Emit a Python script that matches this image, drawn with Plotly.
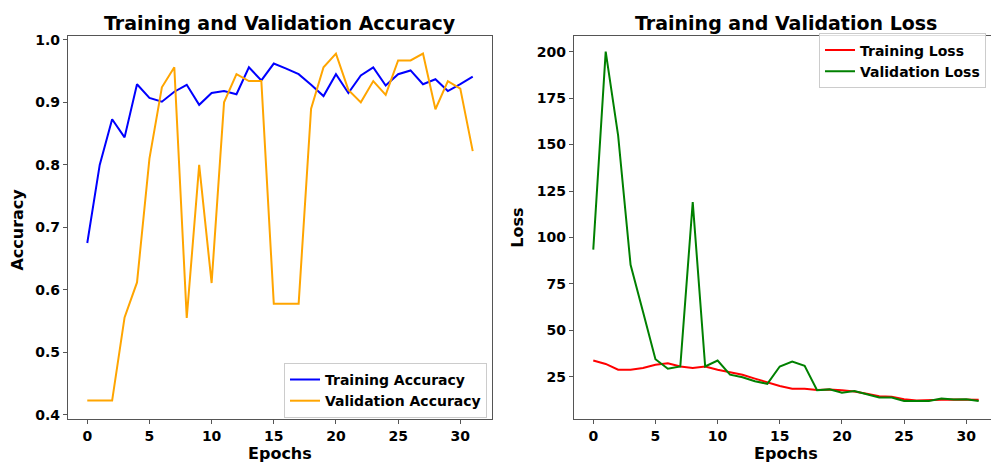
import plotly.graph_objects as go

# Per-epoch training history
epochs = list(range(32))

train_acc = [0.675, 0.800, 0.873, 0.844, 0.929, 0.907, 0.901, 0.917, 0.928, 0.896,
             0.915, 0.918, 0.913, 0.956, 0.935, 0.962, 0.954, 0.945, 0.928, 0.910,
             0.945, 0.915, 0.943, 0.956, 0.927, 0.945, 0.951, 0.929, 0.937, 0.918,
             0.929, 0.941]
val_acc = [0.423, 0.423, 0.423, 0.556, 0.612, 0.810, 0.924, 0.956, 0.555, 0.800,
           0.611, 0.900, 0.945, 0.934, 0.934, 0.578, 0.578, 0.578, 0.890, 0.956,
           0.978, 0.920, 0.900, 0.934, 0.912, 0.967, 0.967, 0.978, 0.889, 0.934,
           0.922, 0.822]

train_loss = [33.8, 32.0, 28.9, 28.9, 29.8, 31.5, 32.4, 30.6, 29.8, 30.6,
              28.9, 27.6, 26.2, 24.1, 22.2, 20.1, 18.7, 18.7, 18.0, 18.3,
              17.8, 17.2, 16.0, 14.6, 14.3, 13.0, 12.3, 12.3, 12.7, 12.8,
              12.8, 12.7]
val_loss = [93.5, 200.0, 154.8, 85.3, 60.0, 34.5, 29.4, 30.6, 119.0, 30.6,
            33.8, 26.2, 24.8, 22.7, 21.3, 30.6, 33.3, 31.0, 17.8, 18.3,
            16.5, 17.4, 15.7, 13.9, 13.9, 12.1, 12.0, 12.1, 13.4, 12.8,
            13.0, 12.1]

acc_ticks = [0.4, 0.5, 0.6, 0.7, 0.8, 0.9, 1.0]
loss_ticks = [25, 50, 75, 100, 125, 150, 175, 200]
epoch_ticks = [0, 5, 10, 15, 20, 25, 30]

W, H = 991, 468
FONT = "DejaVu Sans"
FRAME = "#555555"


def px(x):
    return x / W


def py(y):
    return 1 - y / H


fig = go.Figure()
fig.add_trace(go.Scatter(x=epochs, y=train_acc, mode="lines", name="Training Accuracy",
                         line=dict(color="blue", width=2), xaxis="x", yaxis="y", legend="legend"))
fig.add_trace(go.Scatter(x=epochs, y=val_acc, mode="lines", name="Validation Accuracy",
                         line=dict(color="orange", width=2), xaxis="x", yaxis="y", legend="legend"))
fig.add_trace(go.Scatter(x=epochs, y=train_loss, mode="lines", name="Training Loss",
                         line=dict(color="red", width=2), xaxis="x2", yaxis="y2", legend="legend2"))
fig.add_trace(go.Scatter(x=epochs, y=val_loss, mode="lines", name="Validation Loss",
                         line=dict(color="green", width=2), xaxis="x2", yaxis="y2", legend="legend2"))

tickfont = dict(family=FONT, size=14, color="black", weight="bold")
common = dict(showgrid=False, zeroline=False, showline=True, linecolor=FRAME, linewidth=1.3,
              ticks="outside", ticklen=4, tickcolor=FRAME, tickfont=tickfont)

ydom = [py(422), py(32)]
legend_font = dict(family=FONT, size=14, color="black", weight="bold")

fig.update_layout(
    width=W, height=H, autosize=False,
    margin=dict(l=0, r=0, t=0, b=0),
    paper_bgcolor="white", plot_bgcolor="white",
    xaxis=dict(domain=[px(68), px(492)], range=[-1.55, 32.55], tickvals=epoch_ticks,
               mirror=True, anchor="y", **common),
    yaxis=dict(domain=ydom, range=[0.3937, 1.0055], tickvals=acc_ticks,
               tickformat=".1f", mirror=True, anchor="x", **common),
    xaxis2=dict(domain=[px(574), 1.0], range=[-1.55, 31.99], tickvals=epoch_ticks,
                mirror=True, anchor="y2", **common),
    yaxis2=dict(domain=ydom, range=[2.43, 208.2], tickvals=loss_ticks,
                mirror=False, anchor="x2", **common),
    legend=dict(x=px(487), y=py(421), xanchor="right", yanchor="bottom",
                bgcolor="rgba(255,255,255,0.8)", bordercolor="#cccccc", borderwidth=1,
                font=legend_font, tracegroupgap=0, itemwidth=30),
    legend2=dict(x=px(819), y=py(29), xanchor="left", yanchor="top",
                 bgcolor="rgba(255,255,255,0.8)", bordercolor="#cccccc", borderwidth=1,
                 font=legend_font, tracegroupgap=0, itemwidth=30),
    showlegend=True,
)

title_font = dict(family=FONT, size=19, color="black", weight="bold")
label_font = dict(family=FONT, size=16, color="black", weight="bold")

annotations = [
    dict(text="Training and Validation Accuracy", x=px(280), y=py(18), font=title_font),
    dict(text="Training and Validation Loss", x=px(786), y=py(18), font=title_font),
    dict(text="Epochs", x=px(280), y=py(457), font=label_font),
    dict(text="Epochs", x=px(786), y=py(457), font=label_font),
    dict(text="Accuracy", x=px(18), y=py(229), font=label_font, textangle=-90),
    dict(text="Loss", x=px(518), y=py(227), font=label_font, textangle=-90),
]
for a in annotations:
    fig.add_annotation(xref="paper", yref="paper", showarrow=False,
                       xanchor="center", yanchor="middle", **a)

fig.write_html("out.html")
